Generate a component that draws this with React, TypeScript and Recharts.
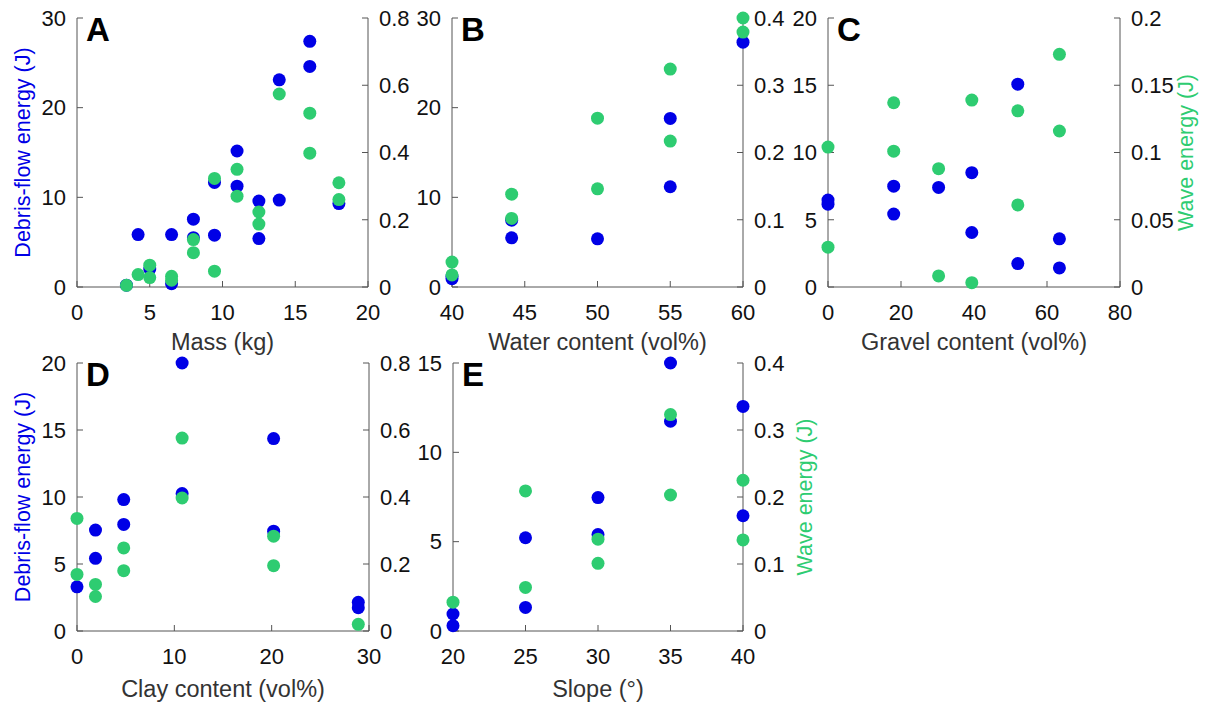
import React from "react";
import { Label, Scatter, ScatterChart, XAxis, YAxis } from "recharts";

// [x, value] pairs
const massDebris = [[3.4, 0.2], [4.2, 5.85], [5.0, 2.0], [6.5, 5.85], [6.5, 0.37], [8.0, 7.56], [8.0, 5.5], [9.45, 5.78], [9.45, 11.66], [11.0, 15.17], [11.0, 11.25], [12.5, 9.58], [12.5, 5.4], [13.9, 23.1], [13.9, 9.69], [16.0, 27.4], [16.0, 24.6], [18.0, 9.3]];
const massWave = [[3.4, 0.005], [4.2, 0.037], [5.0, 0.065], [5.0, 0.028], [6.5, 0.032], [6.5, 0.02], [8.0, 0.141], [8.0, 0.102], [9.45, 0.047], [9.45, 0.323], [11.0, 0.35], [11.0, 0.27], [12.5, 0.223], [12.5, 0.187], [13.9, 0.574], [16.0, 0.517], [16.0, 0.398], [18.0, 0.31], [18.0, 0.26]];

const waterDebris = [[40, 0.93], [40, 1.2], [44.1, 7.45], [44.1, 5.48], [50, 5.37], [55, 18.8], [55, 11.18], [60, 27.3]];
const waterWave = [[40, 0.037], [40, 0.018], [44.1, 0.138], [44.1, 0.102], [50, 0.251], [50, 0.146], [55, 0.324], [55, 0.217], [60, 0.4], [60, 0.379]];

const gravelDebris = [[0, 6.46], [0, 6.16], [18, 7.5], [18, 5.42], [30.3, 7.4], [39.4, 8.5], [39.4, 4.05], [52, 15.08], [52, 1.74], [63.4, 3.58], [63.4, 1.42]];
const gravelWave = [[0, 0.104], [0, 0.0296], [18, 0.137], [18, 0.101], [30.3, 0.088], [30.3, 0.0082], [39.4, 0.139], [39.4, 0.0032], [52, 0.131], [52, 0.061], [63.4, 0.173], [63.4, 0.116]];

const clayDebris = [[0, 3.3], [1.9, 7.53], [1.9, 5.42], [4.8, 9.81], [4.8, 7.95], [10.8, 20], [10.8, 10.26], [20.2, 14.36], [20.2, 7.45], [28.9, 2.14], [28.9, 1.74]];
const clayWave = [[0, 0.336], [0, 0.169], [1.9, 0.139], [1.9, 0.103], [4.8, 0.248], [4.8, 0.18], [10.8, 0.576], [10.8, 0.397], [20.2, 0.283], [20.2, 0.195], [28.9, 0.02]];

const slopeDebris = [[20, 0.3], [20, 0.95], [25, 5.22], [25, 1.32], [30, 7.47], [30, 5.4], [35, 15], [35, 11.74], [40, 12.57], [40, 6.45]];
const slopeWave = [[20, 0.043], [25, 0.209], [25, 0.065], [30, 0.137], [30, 0.101], [35, 0.323], [35, 0.203], [40, 0.225], [40, 0.136]];

const massTicks = [0, 5, 10, 15, 20];
const waterTicks = [40, 45, 50, 55, 60];
const gravelTicks = [0, 20, 40, 60, 80];
const clayTicks = [0, 10, 20, 30];
const slopeTicks = [20, 25, 30, 35, 40];

const debrisTicks30 = [0, 10, 20, 30];
const debrisTicks20 = [0, 5, 10, 15, 20];
const debrisTicks15 = [0, 5, 10, 15];
const waveTicks08 = [0, 0.2, 0.4, 0.6, 0.8];
const waveTicks04 = [0, 0.1, 0.2, 0.3, 0.4];
const waveTicks02 = [0, 0.05, 0.1, 0.15, 0.2];

const BLUE = "#0000e6";
const GREEN = "#2ecc71";
const AXIS = "#555";
const FONT = "'Liberation Sans', Arial, sans-serif";
const W = 1207;
const H = 707;

const toPoints = (pairs: number[][]) => pairs.map(([x, y]) => ({ x, y }));

const dot = (color: string) => (p: any) => <circle cx={p.cx} cy={p.cy} r={6.5} fill={color} />;

const tickStyle = { fill: "#111", fontSize: 22, fontFamily: FONT };

interface PanelProps {
  letter: string;
  rect: { x: number; y: number; w: number; h: number };
  xTicks: number[];
  leftTicks: number[];
  rightTicks: number[];
  debris: number[][];
  wave: number[][];
  xLabel: string;
  leftLabel?: string;
  rightLabel?: string;
  rightLabelOffset?: number;
  xLabelOffset: number;
}

const Panel = ({ letter, rect, xTicks, leftTicks, rightTicks, debris, wave, xLabel, leftLabel, rightLabel, rightLabelOffset = 12, xLabelOffset }: PanelProps) => {
  const leftW = 60;
  const rightW = 80;
  const xH = 72;
  const margin = {
    left: rect.x - leftW,
    right: W - (rect.x + rect.w) - rightW,
    top: rect.y,
    bottom: H - (rect.y + rect.h) - xH,
  };
  const last = (t: number[]) => t[t.length - 1];

  return (
    <div style={{ position: "absolute", left: 0, top: 0 }}>
      <ScatterChart width={W} height={H} margin={margin}>
        <XAxis
          type="number"
          dataKey="x"
          domain={[xTicks[0], last(xTicks)]}
          ticks={xTicks}
          height={xH}
          stroke={AXIS}
          tickSize={-6}
          tickMargin={23}
          tick={tickStyle}
        >
          <Label value={xLabel} position="insideTop" offset={xLabelOffset} style={{ fill: "#333", fontSize: 23.5, fontFamily: FONT }} />
        </XAxis>
        <YAxis
          yAxisId="left"
          type="number"
          dataKey="y"
          domain={[0, last(leftTicks)]}
          ticks={leftTicks}
          width={leftW}
          stroke={AXIS}
          tickSize={-6}
          tickMargin={17}
          tick={tickStyle}
        >
          {leftLabel && (
            <Label value={leftLabel} angle={-90} position="insideLeft" offset={5} style={{ textAnchor: "middle", fill: BLUE, fontSize: 21.5, fontFamily: FONT }} />
          )}
        </YAxis>
        <YAxis
          yAxisId="right"
          orientation="right"
          type="number"
          dataKey="y"
          domain={[0, last(rightTicks)]}
          ticks={rightTicks}
          width={rightW}
          stroke={AXIS}
          tickSize={-6}
          tickMargin={17}
          tick={tickStyle}
        >
          {rightLabel && (
            <Label value={rightLabel} angle={-90} position="insideRight" offset={rightLabelOffset} style={{ textAnchor: "middle", fill: GREEN, fontSize: 21.5, fontFamily: FONT }} />
          )}
        </YAxis>
        <Scatter yAxisId="left" data={toPoints(debris)} shape={dot(BLUE)} isAnimationActive={false} />
        <Scatter yAxisId="right" data={toPoints(wave)} shape={dot(GREEN)} isAnimationActive={false} />
      </ScatterChart>
      <div
        style={{
          position: "absolute",
          left: rect.x + 9,
          top: rect.y - 5,
          fontFamily: FONT,
          fontWeight: "bold",
          fontSize: 33,
          lineHeight: "33px",
          color: "#000",
        }}
      >
        {letter}
      </div>
    </div>
  );
};

export default function App() {
  return (
    <div style={{ position: "absolute", left: 0, top: 0, width: W, height: H, background: "#fff", fontFamily: FONT }}>
      <Panel letter="A" rect={{ x: 77, y: 18, w: 291, h: 269 }} xTicks={massTicks} leftTicks={debrisTicks30} rightTicks={waveTicks08}
        debris={massDebris} wave={massWave} xLabel="Mass (kg)" leftLabel="Debris-flow energy (J)" xLabelOffset={46} />
      <Panel letter="B" rect={{ x: 452, y: 18, w: 291, h: 269 }} xTicks={waterTicks} leftTicks={debrisTicks30} rightTicks={waveTicks04}
        debris={waterDebris} wave={waterWave} xLabel="Water content (vol%)" xLabelOffset={46} />
      <Panel letter="C" rect={{ x: 828, y: 18, w: 292, h: 269 }} xTicks={gravelTicks} leftTicks={debrisTicks20} rightTicks={waveTicks02}
        debris={gravelDebris} wave={gravelWave} xLabel="Gravel content (vol%)" rightLabel="Wave energy (J)" rightLabelOffset={15} xLabelOffset={46} />
      <Panel letter="D" rect={{ x: 77, y: 363, w: 292, h: 268 }} xTicks={clayTicks} leftTicks={debrisTicks20} rightTicks={waveTicks08}
        debris={clayDebris} wave={clayWave} xLabel="Clay content (vol%)" leftLabel="Debris-flow energy (J)" xLabelOffset={49} />
      <Panel letter="E" rect={{ x: 453, y: 363, w: 290, h: 268 }} xTicks={slopeTicks} leftTicks={debrisTicks15} rightTicks={waveTicks04}
        debris={slopeDebris} wave={slopeWave} xLabel="Slope (°)" rightLabel="Wave energy (J)" rightLabelOffset={19} xLabelOffset={49} />
    </div>
  );
}
